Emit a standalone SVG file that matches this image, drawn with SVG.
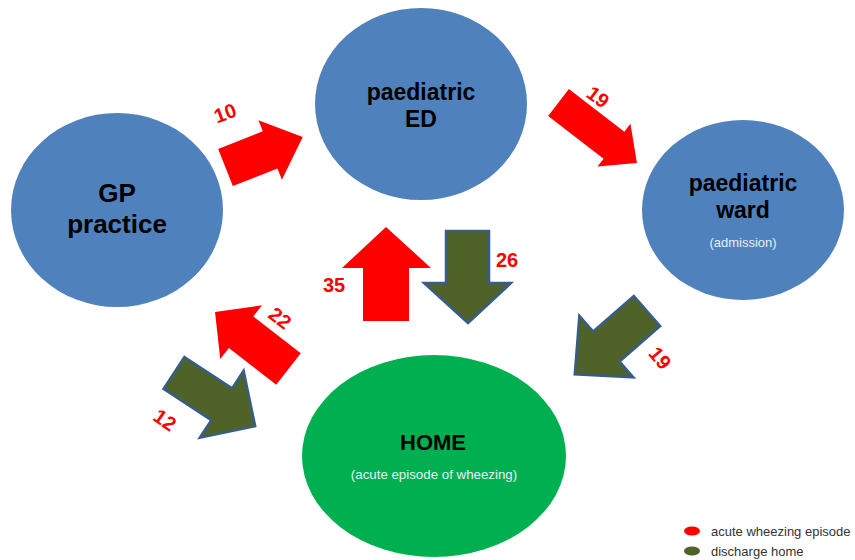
<svg xmlns="http://www.w3.org/2000/svg" width="855" height="560" viewBox="0 0 855 560">
<style>
.node{fill:#4F81BD}
.home{fill:#00B050}
.title{font-family:"Liberation Sans",Arial,sans-serif;font-weight:bold;fill:#000;text-anchor:middle}
.sub{font-family:"Liberation Sans",Arial,sans-serif;fill:#E8EEF7;text-anchor:middle;font-size:13px}
.red{fill:#FF0000}
.grn{fill:#4F6228;stroke:#385D8A;stroke-width:2.5;stroke-linejoin:miter}
.num{font-family:"Liberation Sans",Arial,sans-serif;font-weight:bold;fill:#FF0000;font-size:20px;text-anchor:middle;dominant-baseline:central}
.leg{font-family:"Liberation Sans",Arial,sans-serif;fill:#333;font-size:13px}
</style>
<rect width="855" height="560" fill="#fff"/>
<g id="gp">
<ellipse class="node" cx="117" cy="210" rx="106" ry="97"/>
<text class="title" x="117" y="202" font-size="26">GP</text>
<text class="title" x="117" y="233" font-size="26">practice</text>
</g>
<g id="ed">
<ellipse class="node" cx="421" cy="104" rx="106" ry="96"/>
<text class="title" x="421" y="100" font-size="23">paediatric</text>
<text class="title" x="421" y="127" font-size="23">ED</text>
</g>
<g id="ward">
<ellipse class="node" cx="743" cy="210" rx="101" ry="90"/>
<text class="title" x="743" y="191" font-size="23">paediatric</text>
<text class="title" x="743" y="218" font-size="23">ward</text>
<text class="sub" x="743" y="247">(admission)</text>
</g>
<g id="home">
<ellipse class="home" cx="434" cy="456" rx="132" ry="101"/>
<text class="title" x="433" y="450" font-size="22">HOME</text>
<text class="sub" x="434" y="479" style="font-size:13.3px">(acute episode of wheezing)</text>
</g>
<g id="connectors">
<polygon class="red" points="0,-20 48,-20 48,-32 83,0 48,32 48,20 0,20" transform="translate(225.5,167.5) rotate(-21.5)"/>
<polygon class="red" points="0,-17 70,-17 70,-27 99,0 70,27 70,17 0,17" transform="translate(558.5,102.5) rotate(37.6)"/>
<polygon class="red" points="363,321 363,268 342,268 386,227 431,268 409,268 409,321"/>
<polygon class="grn" points="446,231 489,231 489,283 511,283 468,323 424,283 446,283"/>
<polygon class="red" points="0,-20 60,-20 60,-34 93,0 60,34 60,20 0,20" transform="translate(288.5,369) rotate(-142.2)"/>
<polygon class="grn" points="0,-19 57,-19 57,-40 97,0 57,40 57,19 0,19" transform="translate(174,373) rotate(33.2)"/>
<polygon class="grn" points="0,-20 54,-20 54,-41 96,0 54,41 54,20 0,20" transform="translate(647,311) rotate(138.8)"/>
<text class="num" transform="translate(225,113) rotate(-20)">10</text>
<text class="num" transform="translate(598,97) rotate(37)">19</text>
<text class="num" x="334" y="285">35</text>
<text class="num" x="507" y="260">26</text>
<text class="num" transform="translate(280,318) rotate(38)">22</text>
<text class="num" transform="translate(165,420) rotate(35)">12</text>
<text class="num" transform="translate(660,358) rotate(50)">19</text>
</g>
<g id="legend">
<ellipse cx="692" cy="531" rx="8" ry="4.5" fill="#FF0000"/>
<text class="leg" x="711" y="536">acute wheezing episode</text>
<ellipse cx="692" cy="551" rx="8" ry="4.5" fill="#4F6228"/>
<text class="leg" x="711" y="556">discharge home</text>
</g>
</svg>
